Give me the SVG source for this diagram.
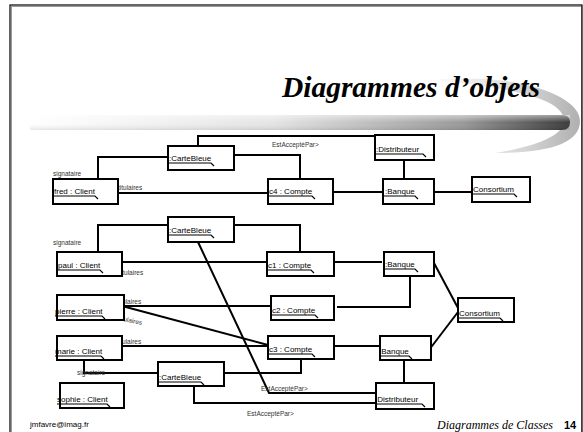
<svg xmlns="http://www.w3.org/2000/svg" width="583" height="432" viewBox="0 0 583 432">
<defs>
<linearGradient id="bar" x1="0" y1="0" x2="1" y2="0">
<stop offset="0" stop-color="#ffffff"/>
<stop offset="0.45" stop-color="#e4e4e4"/>
<stop offset="0.8" stop-color="#9a9a9a"/>
<stop offset="1" stop-color="#3c3c3c"/>
</linearGradient>
<linearGradient id="swoosh" x1="0" y1="0" x2="1" y2="0">
<stop offset="0" stop-color="#ffffff"/>
<stop offset="0.6" stop-color="#d8d8d8"/>
<stop offset="1" stop-color="#b0b0b0"/>
</linearGradient>
<linearGradient id="barv" x1="0" y1="0" x2="0" y2="1">
<stop offset="0" stop-color="#ffffff" stop-opacity="0.5"/>
<stop offset="0.5" stop-color="#ffffff" stop-opacity="0"/>
<stop offset="1" stop-color="#000000" stop-opacity="0.1"/>
</linearGradient>
</defs>
<style>
.box{fill:#ffffff;stroke:#000000;stroke-width:2}
.name{font-family:"Liberation Sans",Arial,sans-serif;font-size:8px;fill:#000000}
.ul{fill:none;stroke:#000000;stroke-width:1.2}
.lbl{font-family:"Liberation Sans",Arial,sans-serif;font-size:6.5px;fill:#333333}
.conn{fill:none;stroke:#000000;stroke-width:2}
.serif{font-family:"Liberation Serif","Times New Roman","DejaVu Serif",serif;font-style:italic;fill:#000000}
.title{font-size:29.5px;font-weight:bold}
.foot{font-size:12px}
</style>
<rect x="0" y="0" width="583" height="432" fill="#ffffff"/>
<!-- frame -->
<rect x="11.5" y="6.5" width="570" height="440" fill="none" stroke="#9a9a9a" stroke-width="1"/>
<rect x="10" y="5" width="572" height="442" fill="none" stroke="#000000" stroke-width="1.2"/>
<!-- decoration -->
<path d="M 430 80 C 520 72 580 96 580 121 C 580 143 550 153 495 153 C 540 146 564 134 564 121 C 564 100 520 88 430 80 Z" fill="url(#swoosh)"/>
<path d="M 30 115 H 562 Q 570 115 570 122 Q 570 130 562 130 H 30 Z" fill="url(#bar)"/>
<rect x="30" y="115" width="540" height="15" fill="url(#barv)"/>
<text class="serif title" x="540" y="97" text-anchor="end">Diagrammes d’objets</text>
<!-- connectors -->
<g id="connectors">
<polyline class="conn" points="98,179 98,157 168,157"/>
<polyline class="conn" points="198,146 198,136 375,136"/>
<polyline class="conn" points="233,155 300,155 300,179"/>
<line class="conn" x1="118" y1="193" x2="268" y2="193"/>
<line class="conn" x1="332" y1="192" x2="383" y2="192"/>
<line class="conn" x1="404" y1="160" x2="404" y2="179"/>
<line class="conn" x1="434" y1="192" x2="472" y2="192"/>
<polyline class="conn" points="98,252 98,225 168,225"/>
<polyline class="conn" points="233,225 300,225 300,252"/>
<line class="conn" x1="122" y1="262" x2="267" y2="262"/>
<line class="conn" x1="332" y1="262" x2="382" y2="262"/>
<line class="conn" x1="434" y1="263" x2="458" y2="308"/>
<polyline class="conn" points="337,307 410,307 410,276"/>
<line class="conn" x1="123" y1="306" x2="271" y2="306"/>
<line class="conn" x1="122" y1="306" x2="268" y2="345"/>
<line class="conn" x1="122" y1="346" x2="268" y2="346"/>
<line class="conn" x1="332" y1="346" x2="380" y2="346"/>
<line class="conn" x1="429" y1="350" x2="458" y2="312"/>
<line class="conn" x1="404" y1="360" x2="404" y2="383"/>
<polyline class="conn" points="84,360 84,373 158,373"/>
<polyline class="conn" points="223,373 301,373 301,359"/>
<polyline class="conn" points="194,386 194,403 376,403"/>
<polyline class="conn" points="198,242 269,393 376,393"/>
</g>
<!-- labels -->
<g id="labels">
<text class="lbl" x="53" y="176">signataire</text>
<text class="lbl" x="118" y="190">titulaires</text>
<text class="lbl" x="272" y="147">EstAcceptéPar&gt;</text>
<text class="lbl" x="53" y="245">signataire</text>
<text class="lbl" x="119" y="275">titulaires</text>
<text class="lbl" x="117" y="304">titulaires</text>
<text class="lbl" x="118" y="320" transform="rotate(12 118 320)">titulaires</text>
<text class="lbl" x="117" y="344">titulaires</text>
<text class="lbl" x="77" y="375">signataire</text>
<text class="lbl" x="261" y="391">EstAcceptéPar&gt;</text>
<text class="lbl" x="247" y="416">EstAcceptéPar&gt;</text>
</g>
<!-- nodes -->
<g id="fred"><rect class="box" x="53" y="179" width="65" height="25"/><text class="name" x="54" y="194">fred : Client</text><path class="ul" d="M53 196 H95 l3 3"/></g>
<g id="carte1"><rect class="box" x="168" y="146" width="66" height="24"/><text class="name" x="169" y="161">:CarteBleue</text><path class="ul" d="M168 163 H211 l3 3"/></g>
<g id="c4"><rect class="box" x="268" y="179" width="65" height="25"/><text class="name" x="269" y="194">c4 : Compte</text><path class="ul" d="M268 196 H312 l3 3"/></g>
<g id="distributeur1"><rect class="box" x="375" y="135" width="59" height="25"/><text class="name" x="376" y="152">:Distributeur</text><path class="ul" d="M375 154 H423 l3 3"/></g>
<g id="banque1"><rect class="box" x="383" y="179" width="51" height="25"/><text class="name" x="385" y="194">:Banque</text><path class="ul" d="M384 196 H415 l3 3"/></g>
<g id="consortium1"><rect class="box" x="472" y="177" width="58" height="25"/><text class="name" x="473" y="192">Consortium</text><path class="ul" d="M472 194 H514 l3 3"/></g>
<g id="carte2"><rect class="box" x="168" y="217" width="66" height="25"/><text class="name" x="169" y="233">:CarteBleue</text><path class="ul" d="M168 235 H211 l3 3"/></g>
<g id="paul"><rect class="box" x="57" y="252" width="65" height="24"/><text class="name" x="58" y="268">paul : Client</text><path class="ul" d="M57 270 H100 l3 3"/></g>
<g id="c1"><rect class="box" x="267" y="252" width="67" height="24"/><text class="name" x="268" y="268">c1 : Compte</text><path class="ul" d="M267 270 H311 l3 3"/></g>
<g id="banque2"><rect class="box" x="384" y="252" width="50" height="24"/><text class="name" x="385" y="267">:Banque</text><path class="ul" d="M384 269 H415 l3 3"/></g>
<g id="consortium2"><rect class="box" x="458" y="298" width="56" height="24"/><text class="name" x="459" y="316">Consortium</text><path class="ul" d="M458 318 H500 l3 3"/></g>
<g id="c2"><rect class="box" x="271" y="296" width="63" height="24"/><text class="name" x="272" y="313">c2 : Compte</text><path class="ul" d="M271 315 H315 l3 3"/></g>
<g id="pierre"><rect class="box" x="57" y="295" width="67" height="25"/><text class="name" x="55" y="314">pierre : Client</text><path class="ul" d="M55 316 H102 l3 3"/></g>
<g id="marie"><rect class="box" x="57" y="336" width="65" height="24"/><text class="name" x="55" y="354">marie : Client</text><path class="ul" d="M55 356 H101 l3 3"/></g>
<g id="c3"><rect class="box" x="268" y="336" width="66" height="23"/><text class="name" x="269" y="352">c3 : Compte</text><path class="ul" d="M268 354 H312 l3 3"/></g>
<g id="banque3"><rect class="box" x="380" y="336" width="51" height="24"/><text class="name" x="379" y="354">:Banque</text><path class="ul" d="M379 356 H409 l3 3"/></g>
<g id="distributeur2"><rect class="box" x="376" y="383" width="58" height="26"/><text class="name" x="375" y="402">:Distributeur</text><path class="ul" d="M375 404 H422 l3 3"/></g>
<g id="carte3"><rect class="box" x="158" y="362" width="66" height="24"/><text class="name" x="159" y="380">:CarteBleue</text><path class="ul" d="M158 382 H201 l3 3"/></g>
<g id="sophie"><rect class="box" x="60" y="383" width="64" height="25"/><text class="name" x="57" y="402">sophie : Client</text><path class="ul" d="M57 404 H107 l3 3"/></g>
<!-- footer -->
<text x="30" y="427" font-family="'Liberation Sans',Arial,sans-serif" font-size="8" fill="#000000">jmfavre@imag.fr</text>
<text class="serif foot" x="553" y="429" text-anchor="end">Diagrammes de Classes</text>
<text x="564" y="429" font-family="'Liberation Sans',Arial,sans-serif" font-size="11" font-weight="bold" fill="#000000">14</text>
</svg>
